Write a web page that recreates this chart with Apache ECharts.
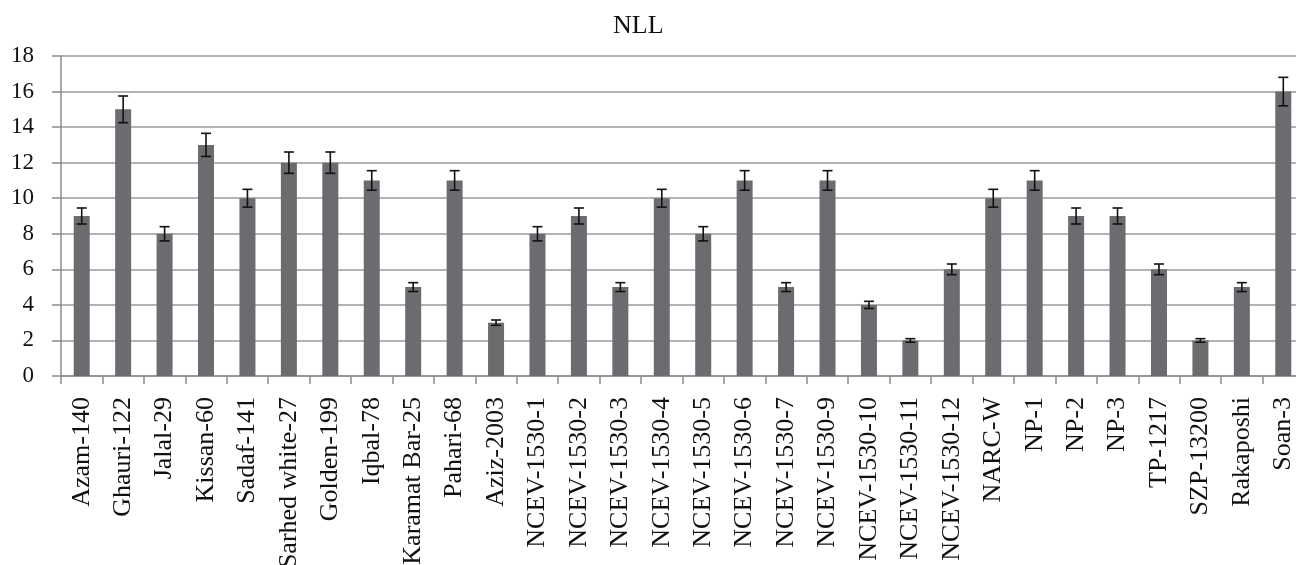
<!DOCTYPE html>
<html>
<head>
<meta charset="utf-8">
<script src="https://cdn.jsdelivr.net/npm/echarts@6/dist/echarts.min.js"></script>
<style>
html, body { margin: 0; padding: 0; background: #fff; }
#nll { width: 1296px; height: 565px; }
</style>
</head>
<body>
<div id="nll"></div>
<script>
// NLL per variety
var varieties = ['Azam-140', 'Ghauri-122', 'Jalal-29', 'Kissan-60', 'Sadaf-141', 'Sarhed white-27',
    'Golden-199', 'Iqbal-78', 'Karamat Bar-25', 'Pahari-68', 'Aziz-2003', 'NCEV-1530-1',
    'NCEV-1530-2', 'NCEV-1530-3', 'NCEV-1530-4', 'NCEV-1530-5', 'NCEV-1530-6', 'NCEV-1530-7',
    'NCEV-1530-9', 'NCEV-1530-10', 'NCEV-1530-11', 'NCEV-1530-12', 'NARC-W', 'NP-1', 'NP-2',
    'NP-3', 'TP-1217', 'SZP-13200', 'Rakaposhi', 'Soan-3'];
var nllValues = [9, 15, 8, 13, 10, 12, 12, 11, 5, 11, 3, 8, 9, 5, 10, 8, 11, 5, 11, 4, 2, 6,
    10, 11, 9, 9, 6, 2, 5, 16];
var nllError = [0.45, 0.75, 0.4, 0.65, 0.5, 0.6, 0.6, 0.55, 0.25, 0.55, 0.15, 0.4, 0.45, 0.25,
    0.5, 0.4, 0.55, 0.25, 0.55, 0.2, 0.1, 0.3, 0.5, 0.55, 0.45, 0.45, 0.3, 0.1, 0.25, 0.8];
var yTicks = [0, 2, 4, 6, 8, 10, 12, 14, 16, 18];

var errorData = nllValues.map(function (v, i) {
    return [i, v - nllError[i], v + nllError[i]];
});

var nllChart = echarts.init(document.getElementById('nll'));
var nllOptions = {
    animation: false,
    textStyle: { fontFamily: 'Liberation Serif' },
    title: {
        text: 'NLL',
        left: 608,
        top: 8,
        textStyle: { fontFamily: 'Liberation Serif', fontWeight: 'normal', fontSize: 26, color: '#111' }
    },
    grid: { left: 61, right: -8, top: 56, bottom: 189, containLabel: false, outerBoundsMode: 'none' },
    xAxis: {
        type: 'category',
        data: varieties,
        axisLine: { lineStyle: { color: '#8c8c8c', width: 1.5 } },
        axisTick: { show: true, length: 8, lineStyle: { color: '#8c8c8c', width: 1.5 } },
        axisLabel: {
            interval: 0,
            rotate: 90,
            margin: 21,
            fontSize: 26,
            color: '#111',
            fontFamily: 'Liberation Serif'
        }
    },
    yAxis: {
        type: 'value',
        min: yTicks[0],
        max: yTicks[yTicks.length - 1],
        interval: 2,
        axisLine: { show: true, lineStyle: { color: '#8c8c8c', width: 1.5 } },
        axisTick: { show: true, length: 9, lineStyle: { color: '#8c8c8c', width: 1.5 } },
        splitLine: { lineStyle: { color: '#9a9a9a', width: 1.5 } },
        axisLabel: { fontSize: 23, color: '#111', margin: 27, fontFamily: 'Liberation Serif' }
    },
    series: [
        {
            name: 'NLL',
            type: 'bar',
            data: nllValues,
            barWidth: 16,
            itemStyle: { color: '#6b6c6f' }
        },
        {
            name: 'Error',
            type: 'custom',
            data: errorData,
            z: 10,
            renderItem: function (params, api) {
                var x = api.value(0);
                var lo = api.coord([x, api.value(1)]);
                var hi = api.coord([x, api.value(2)]);
                var half = 5;
                var style = { stroke: '#111', lineWidth: 1.6 };
                return {
                    type: 'group',
                    children: [
                        { type: 'line', shape: { x1: lo[0], y1: lo[1], x2: hi[0], y2: hi[1] }, style: style },
                        { type: 'line', shape: { x1: lo[0] - half, y1: lo[1], x2: lo[0] + half, y2: lo[1] }, style: style },
                        { type: 'line', shape: { x1: hi[0] - half, y1: hi[1], x2: hi[0] + half, y2: hi[1] }, style: style }
                    ]
                };
            }
        }
    ]
};
nllChart.setOption(nllOptions);
</script>
</body>
</html>
